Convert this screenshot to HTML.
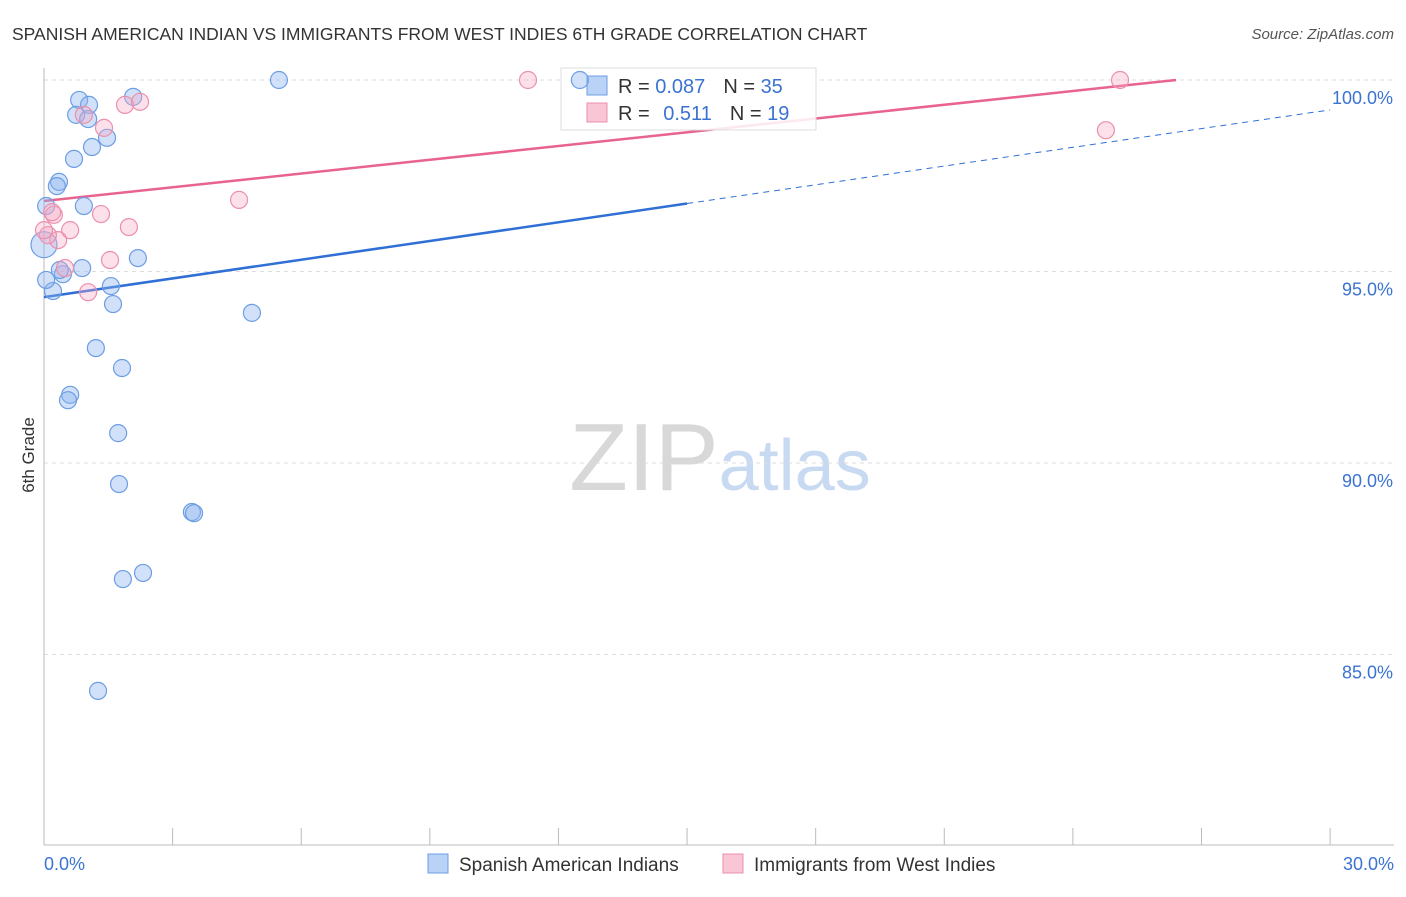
<!DOCTYPE html>
<html><head><meta charset="utf-8"><style>
body{margin:0;background:#fff;font-family:"Liberation Sans",sans-serif;}
svg text{font-family:"Liberation Sans",sans-serif;}
</style></head><body>
<svg id="chart" width="1406" height="892" xmlns="http://www.w3.org/2000/svg">
<text x="12" y="40" font-size="17.5" fill="#333">SPANISH AMERICAN INDIAN VS IMMIGRANTS FROM WEST INDIES 6TH GRADE CORRELATION CHART</text>
<text x="1394" y="39" font-size="15" fill="#555" text-anchor="end" font-style="italic">Source: ZipAtlas.com</text>
<text x="720" y="490" font-size="96" text-anchor="middle" fill="#ddd" font-family="Liberation Serif"><tspan fill="#d8d8d8">ZIP</tspan><tspan fill="#c8daf2" font-family="Liberation Sans" font-size="72">atlas</tspan></text>
<text transform="translate(34,455) rotate(-90)" font-size="17" fill="#333" text-anchor="middle">6th Grade</text>
<g id="grid"></g><g id="axes"></g><g id="lines"></g>
<g>
<rect x="561" y="68" width="255" height="62" fill="rgba(255,255,255,0.85)" stroke="#ddd"/>
<rect x="587" y="76" width="20" height="19" fill="#b9d2f5" stroke="#6d9de3"/>
<rect x="587" y="103" width="20" height="19" fill="#f9c6d5" stroke="#ec8fac"/>
<text x="618" y="93" font-size="20" fill="#333">R = <tspan fill="#3b73d1">0.087</tspan><tspan dx="18">N = </tspan><tspan fill="#3b73d1">35</tspan></text>
<text x="618" y="120" font-size="20" fill="#333">R = <tspan dx="8" fill="#3b73d1">0.511</tspan><tspan dx="18">N = </tspan><tspan fill="#3b73d1">19</tspan></text>
</g>
<g id="points"></g>
<g>
<rect x="428" y="854" width="20" height="19" fill="#b9d2f5" stroke="#6d9de3"/>
<text x="459" y="871" font-size="19" fill="#333">Spanish American Indians</text>
<rect x="723" y="854" width="20" height="19" fill="#f9c6d5" stroke="#ec8fac"/>
<text x="754" y="871" font-size="19" fill="#333">Immigrants from West Indies</text>
</g>
</svg>
<script>
const yTicks=[100,95,90,85];
const yTickLabels=["100.0%","95.0%","90.0%","85.0%"];
const xLabels=["0.0%","30.0%"];
const blueX=[5.48,12.5,0.82,1.05,2.08,0.75,1.03,1.47,1.12,0.70,0.35,0.30,0.93,0.05,2.19,0.89,0.44,0.21,1.56,1.61,4.85,1.21,1.82,0.61,0.56,1.73,1.75,3.45,3.50,2.31,1.84,1.26,0.0,0.05,0.37];
const blueY=[100,100,99.48,99.35,99.56,99.09,98.98,98.49,98.25,97.94,97.34,97.23,96.71,96.71,95.35,95.09,94.93,94.49,94.62,94.15,93.92,93.0,92.48,91.78,91.64,90.78,89.45,88.72,88.69,87.13,86.97,84.05,95.7,94.78,95.04];
const pinkX=[11.29,25.10,24.77,1.89,2.24,0.93,1.40,4.55,1.33,1.98,0.23,0.61,0.33,0.09,1.54,1.03,0.49,0.0,0.19];
const pinkY=[100,100,98.69,99.35,99.43,99.09,98.75,96.87,96.50,96.16,96.48,96.08,95.82,95.95,95.30,94.46,95.09,96.08,96.55];
const blueLine=[94.33,99.22];
const pinkLine=[96.84,100.43];
const NS="http://www.w3.org/2000/svg";
const sx=v=>44+v*42.87, sy=v=>80+(100-v)*38.3;
function mk(tag,attrs,parent){const e=document.createElementNS(NS,tag);for(const k in attrs)e.setAttribute(k,attrs[k]);document.getElementById(parent).appendChild(e);return e;}
yTicks.forEach((t,i)=>{
 const g=mk('line',{x1:44,x2:1394,y1:sy(t),y2:sy(t),stroke:'#ddd','stroke-dasharray':'4,4'},'grid');
 
 
 const tx=mk('text',{x:1393,y:sy(t)+24,'font-size':18,fill:'#3b73d1','text-anchor':'end'},'axes');tx.textContent=yTickLabels[i];
 
 
});
const ax=mk('line',{x1:44,x2:44,y1:68,y2:845,stroke:'#bbb'},'axes');


const bx=mk('line',{x1:44,x2:1394,y1:845,y2:845,stroke:'#bbb'},'axes');


for(let i=1;i<=10;i++){const t=mk('line',{x1:sx(i*3),x2:sx(i*3),y1:828,y2:845,stroke:'#bbb'},'axes');
 
 }
[[0,'start',44],[30,'end',1394]].forEach((d,i)=>{const t=mk('text',{x:d[2],y:870,'font-size':18,fill:'#3b73d1','text-anchor':d[1]},'axes');t.textContent=xLabels[i];
 
 });
const by=x=>blueLine[0]+(blueLine[1]-blueLine[0])*x/30;
let l=mk('line',{x1:sx(0),y1:sy(by(0)),x2:sx(15),y2:sy(by(15)),stroke:'#2f6fd6','stroke-width':2.5},'lines');


l=mk('line',{x1:sx(15),y1:sy(by(15)),x2:sx(30),y2:sy(by(30)),stroke:'#2f6fd6','stroke-width':1,'stroke-dasharray':'6,5'},'lines');


const xe=30*(100-pinkLine[0])/(pinkLine[1]-pinkLine[0]);
l=mk('line',{x1:sx(0),y1:sy(pinkLine[0]),x2:sx(xe),y2:sy(100),stroke:'#e8638d','stroke-width':2.5},'lines');


blueX.forEach((x,i)=>{const c=mk('circle',{cx:sx(x),cy:sy(blueY[i]),r:i==32?13:8.5,fill:'rgba(140,180,240,0.4)',stroke:'#6d9de3','stroke-width':1.2},'points');
 
 });
pinkX.forEach((x,i)=>{const c=mk('circle',{cx:sx(x),cy:sy(pinkY[i]),r:8.5,fill:'rgba(245,170,195,0.35)',stroke:'#ec8fac','stroke-width':1.2},'points');
 
 });
</script>
</body></html>
